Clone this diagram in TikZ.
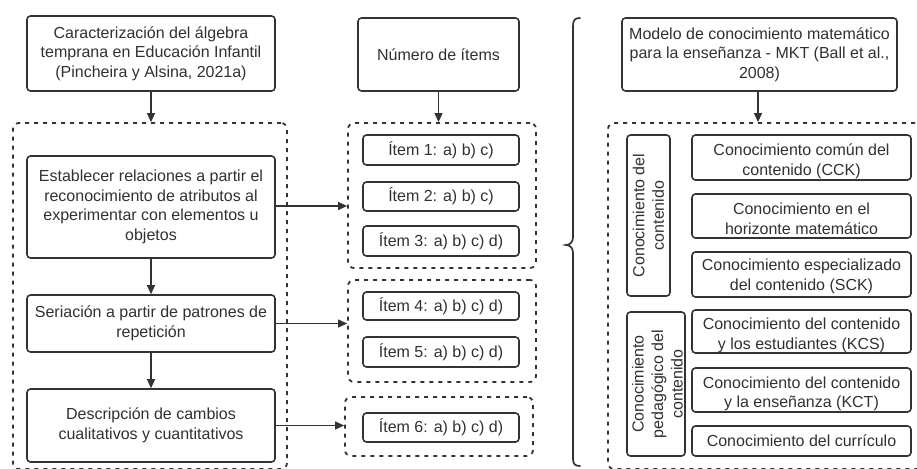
\documentclass[tikz,border=0pt]{standalone}
\usepackage{fontspec}
\setmainfont{Liberation Sans}
\usetikzlibrary{arrows.meta,calc}
\definecolor{ln}{HTML}{333333}
\definecolor{tx}{HTML}{303030}
\tikzset{
  box/.style={draw=ln, line width=1.6pt, rounded corners=3.5pt, inner sep=0pt, align=center, text=tx, font=\fontsize{16}{19.5}\selectfont},
  txt/.style={inner sep=0pt, align=center, text=tx, font=\fontsize{16}{19.5}\selectfont},
  grp/.style={draw=ln, line width=1.8pt, dash pattern=on 4pt off 5pt, rounded corners=6pt, inner sep=0pt},
  arr/.style={draw=ln, line width=1.2pt, -{Triangle[length=9pt,width=8pt]}},
  brc/.style={draw=ln, line width=1.7pt, line cap=round},
}
\begin{document}
\begin{tikzpicture}[x=1pt,y=-1pt]
\useasboundingbox (0,0) rectangle (917,468);
\clip (0,0) rectangle (917,468);

% ---------- left column ----------
\node[box, minimum width=248, minimum height=75] (top) at (151,53.5)
  {Caracterización del álgebra\\temprana en Educación Infantil\\(Pincheira y Alsina, 2021a)};
\node[grp, minimum width=274, minimum height=346] (g0) at (150,296) {};
\node[box, minimum width=248, minimum height=102] (b2) at (151,207)
  {Establecer relaciones a partir el\\reconocimiento de atributos al\\experimentar con elementos u\\objetos};
\node[box, minimum width=248, minimum height=57] (b3) at (151,323.5)
  {Seriación a partir de patrones de\\repetición};
\node[box, minimum width=248, minimum height=73] (b4) at (151,425.5)
  {Descripción de cambios\\cualitativos y cuantitativos};

% ---------- middle column ----------
\node[box, minimum width=161, minimum height=73] (num) at (438.5,54.5) {Número de ítems};
\node[grp, minimum width=188, minimum height=145] (g1) at (442,195.5) {};
\node[grp, minimum width=188, minimum height=102] (g2) at (442,331) {};
\node[grp, minimum width=188, minimum height=59] (g3) at (439,426.5) {};
\node[box, minimum width=156, minimum height=30] (i1) at (441,150) {Ítem 1: a) b) c)};
\node[box, minimum width=156, minimum height=29] (i2) at (441,196.5) {Ítem 2: a) b) c)};
\node[box, minimum width=156, minimum height=30] (i3) at (441,241) {Ítem 3: a) b) c) d)};
\node[box, minimum width=156, minimum height=28] (i4) at (441,306) {Ítem 4: a) b) c) d)};
\node[box, minimum width=156, minimum height=30] (i5) at (441,352) {Ítem 5: a) b) c) d)};
\node[box, minimum width=156, minimum height=29] (i6) at (441,427.5) {Ítem 6: a) b) c) d)};

% ---------- brace ----------
\draw[brc] (580,18) .. controls (575,18) and (573,20) .. (573,26) -- (573,237)
  .. controls (573,242) and (570,245) .. (566,245)
  .. controls (570,245) and (573,248) .. (573,253) -- (573,459)
  .. controls (573,464) and (575,466) .. (580,466);

% ---------- right column ----------
\node[box, minimum width=275, minimum height=73] (mkt) at (759.5,54.5)
  {Modelo de conocimiento matemático\\para la enseñanza - MKT (Ball et al.,\\2008)};
\node[grp, minimum width=322, minimum height=346] (gr) at (769,296) {};
\node[box, minimum width=43, minimum height=161] (va) at (648.5,215.5) {};
\node[txt, rotate=90] (vat) at (va.center) {Conocimiento del\\contenido};
\node[box, minimum width=58, minimum height=144] (vb) at (656,384) {};
\node[txt, rotate=90] (vbt) at ([xshift=1.5]vb.center) {Conocimiento\\pedagógico del\\contenido};

\node[box, minimum width=219, minimum height=45] (cck) at (801.5,157.5) {};
\node[txt] (cckt) at ([yshift=-4]cck.center) {Conocimiento común del\\contenido (CCK)};
\node[box, minimum width=219, minimum height=44] (hor) at (801.5,216) {};
\node[txt] (hort) at ([yshift=-3]hor.center) {Conocimiento en el\\horizonte matemático};
\node[box, minimum width=219, minimum height=45] (sck) at (801.5,274.5) {};
\node[txt] (sckt) at ([yshift=-2]sck.center) {Conocimiento especializado\\del contenido (SCK)};
\node[box, minimum width=219, minimum height=43] (kcs) at (801.5,331.5) {};
\node[txt] (kcst) at ([yshift=-4]kcs.center) {Conocimiento del contenido\\y los estudiantes (KCS)};
\node[box, minimum width=219, minimum height=44] (kct) at (801.5,390) {};
\node[txt] (kctt) at ([yshift=-4]kct.center) {Conocimiento del contenido\\y la enseñanza (KCT)};
\node[box, minimum width=219, minimum height=30] (cur) at (801.5,441) {Conocimiento del currículo};

% ---------- connectors ----------
\draw[arr] (top.south) -- (top.south |- g0.north);
\draw[arr] (num.south) -- (num.south |- g1.north);
\draw[arr] ([xshift=-1.5]mkt.south) -- ([xshift=-1.5]mkt.south |- gr.north);
\draw[arr] (b2.south) -- (b3.north);
\draw[arr] (b3.south) -- (b4.north);
\draw[arr] ([yshift=1]b2.east) -- ([yshift=1]b2.east -| g1.west);
\draw[arr] (b3.east) -- (b3.east -| g2.west);
\draw[arr] (b4.east) -- (b4.east -| g3.west);
\end{tikzpicture}
\end{document}
